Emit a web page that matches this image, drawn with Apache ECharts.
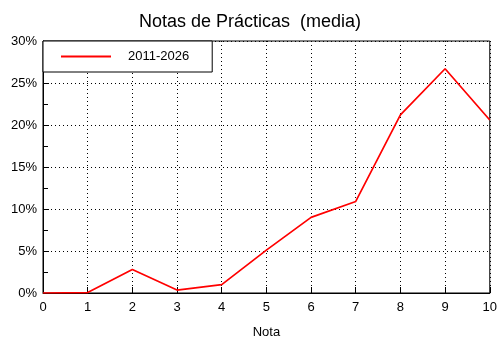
<!DOCTYPE html>
<html>
<head>
<meta charset="utf-8">
<script src="https://cdn.jsdelivr.net/npm/echarts@6/dist/echarts.min.js"></script>
<style>html,body{margin:0;padding:0;background:#fff}#c{width:500px;height:350px}</style>
</head>
<body>
<div id="c"></div>
<script>
var notas = [0, 1, 2, 3, 4, 5, 6, 7, 8, 9, 10];
var valores = [0.0, 0.05, 2.8, 0.35, 1.0, 5.1, 9.0, 10.9, 21.2, 26.7, 20.6];
var serieNombre = '2011-2026';
var titulo = 'Notas de Prácticas  (media)';
var ejeX = 'Nota';

var font = 'Liberation Sans';
var chart = echarts.init(document.getElementById('c'), null, {renderer: 'canvas'});
chart.setOption({
  animation: false,
  backgroundColor: '#fff',
  title: {
    text: titulo, left: 'center', top: 8,
    textStyle: {fontFamily: font, fontSize: 18, fontWeight: 'normal', color: '#000'}
  },
  legend: {
    left: 43, top: 41,
    padding: [9, 23, 9, 17],
    borderColor: '#000', borderWidth: 1, borderRadius: 0,
    backgroundColor: '#fff',
    itemWidth: 50, itemHeight: 14,
    itemStyle: {opacity: 0},
    lineStyle: {color: '#ff0000', width: 2},
    textStyle: {fontFamily: font, fontSize: 13, color: '#000', padding: [0, 0, 0, 12]},
    data: [serieNombre]
  },
  grid: {
    left: 43, right: 10, top: 41, bottom: 57,
    show: true, borderColor: '#000', borderWidth: 1, containLabel: false
  },
  xAxis: {
    type: 'value', min: 0, max: 10, interval: 1,
    name: ejeX, nameLocation: 'middle', nameGap: 33,
    nameTextStyle: {fontFamily: font, fontSize: 13, color: '#000'},
    axisLine: {lineStyle: {color: '#000', width: 1}},
    axisTick: {inside: true, length: 6, lineStyle: {color: '#000'}},
    axisLabel: {fontFamily: font, fontSize: 13, color: '#000', margin: 8},
    splitLine: {show: true, lineStyle: {color: '#000', type: [1, 3], width: 1}}
  },
  yAxis: {
    type: 'value', min: 0, max: 30, interval: 5,
    axisLine: {show: true, lineStyle: {color: '#000', width: 1}},
    axisTick: {show: true, inside: true, length: 6, lineStyle: {color: '#000'}},
    minorTick: {show: true, splitNumber: 2, length: 5, lineStyle: {color: '#000'}},
    axisLabel: {fontFamily: font, fontSize: 13, color: '#000', margin: 6, formatter: '{value}%'},
    splitLine: {show: true, lineStyle: {color: '#000', type: [1, 3], width: 1}}
  },
  series: [{
    name: serieNombre, type: 'line',
    data: notas.map(function (n, i) { return [n, valores[i]]; }),
    showSymbol: false, symbol: 'none',
    lineStyle: {color: '#ff0000', width: 1.7},
    itemStyle: {color: '#ff0000'}
  }]
});
</script>
</body>
</html>
